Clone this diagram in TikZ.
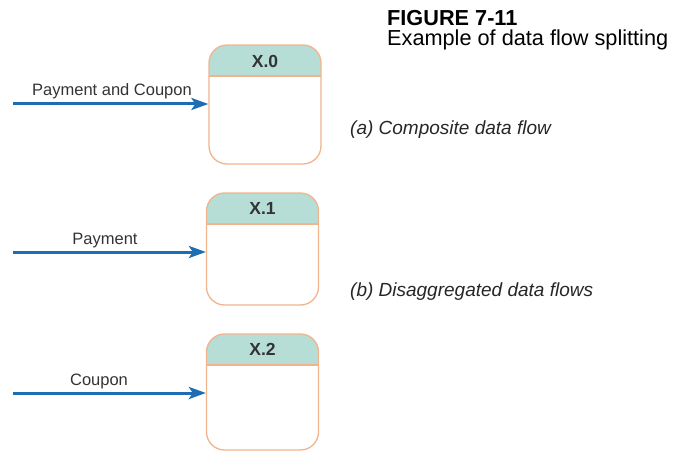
\documentclass[tikz,border=0pt]{standalone}
\usepackage{fontspec}
\setmainfont{Liberation Sans}
\usetikzlibrary{arrows.meta}
\definecolor{hdrfill}{HTML}{B6DED6}
\definecolor{boxline}{HTML}{F2B48C}
\definecolor{flowblue}{HTML}{1C6DB3}
\tikzset{
  procbox/.style={draw=boxline, line width=1.3pt, rounded corners=18pt,
    minimum width=112pt, minimum height=119pt, inner sep=0pt, fill=white,
    path picture={
      \fill[hdrfill, sharp corners] (path picture bounding box.north west)
        rectangle ([yshift=-31pt]path picture bounding box.north east);
      \draw[boxline, line width=1.3pt, sharp corners]
        ([yshift=-31pt]path picture bounding box.north west)
        -- ([yshift=-31pt]path picture bounding box.north east);
    }},
  hdrtext/.style={font=\fontsize{17.5}{20}\selectfont\bfseries, text=black!80, inner sep=0pt},
  flowlabel/.style={font=\fontsize{16.5}{19}\selectfont, text=black!80, inner sep=0pt},
  flow/.style={flowblue, line width=3pt,
    -{Stealth[length=17pt, width=12pt, inset=4pt]}},
  note/.style={font=\fontsize{19}{22}\selectfont\itshape, text=black!85, anchor=west, inner sep=0pt},
  caption/.style={font=\fontsize{21.7}{24}\selectfont, anchor=west, inner sep=0pt}
}
\begin{document}
\begin{tikzpicture}[x=1pt, y=-1pt]
  \useasboundingbox (0,0) rectangle (673,452);

  % caption
  \node[caption, font=\fontsize{21.7}{24}\selectfont\bfseries] (fig) at (387,18) {FIGURE 7-11};
  \node[caption] (figtitle) at (387,40) {Example of data flow splitting};

  % (a) composite flow into X.0
  \node[procbox, minimum height=119pt] (p0) at (265,104.5) {};
  \node[hdrtext] (p0h) at (265,61) {X.0};
  \coordinate (s0) at (13,104);
  \draw[flow] (s0) -- (s0 -| p0.west);
  \node[flowlabel] (l0) at (112,91) {Payment and Coupon};
  \node[note] (na) at (350,130) {(a) Composite data flow};

  % (b) disaggregated flows into X.1 and X.2
  \node[procbox, minimum height=112pt] (p1) at (262.5,249) {};
  \node[hdrtext] (p1h) at (262.5,208) {X.1};
  \coordinate (s1) at (13,252);
  \draw[flow] (s1) -- (s1 -| p1.west);
  \node[flowlabel] (l1) at (105,241) {Payment};

  \node[procbox, minimum height=116pt] (p2) at (262.5,392) {};
  \node[hdrtext] (p2h) at (262.5,349) {X.2};
  \coordinate (s2) at (13,393);
  \draw[flow] (s2) -- (s2 -| p2.west);
  \node[flowlabel] (l2) at (99,381) {Coupon};

  \node[note] (nb) at (350,292) {(b) Disaggregated data flows};
\end{tikzpicture}
\end{document}
